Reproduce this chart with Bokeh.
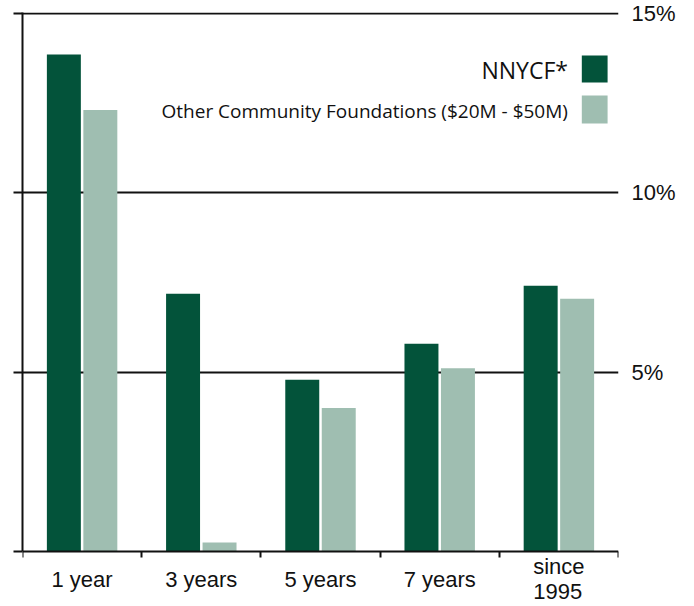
import numpy as np
from bokeh.plotting import figure
from bokeh.models import (ColumnDataSource, Range1d, FixedTicker, LinearAxis,
                          LabelSet, Label, BoxAnnotation)
from bokeh.core.properties import value
from bokeh.transform import dodge
from bokeh.embed import file_html
from bokeh.resources import INLINE

# ---- data ----
categories = ["1 year", "3 years", "5 years", "7 years", "since\n1995"]
nnycf = [13.86, 7.19, 4.79, 5.79, 7.41]
other = [12.31, 0.25, 4.00, 5.11, 7.05]
y_ticks = [5, 10, 15]
y_tick_labels = {5: "5%", 10: "10%", 15: "15%"}
series_names = ["NNYCF*", "Other Community Foundations ($20M - $50M)"]

DARK = "#03533a"
LIGHT = "#9fbeb1"

n = len(categories)
src = ColumnDataSource(dict(x=list(range(n)), nnycf=nnycf, other=other,
                            label=categories, base=[0] * n))

W, H = 678, 606
TOP, LEFT, RIGHT = 12, 22, 55
PX_PER_UNIT = 35.86
Y_END = 15.03
Y_START = Y_END - (H - TOP) / PX_PER_UNIT

p = figure(width=W, height=H, output_backend="svg", toolbar_location=None,
           x_range=Range1d(-0.5, n - 0.5), y_range=Range1d(Y_START, Y_END),
           x_axis_location="above",
           min_border_left=LEFT, min_border_right=RIGHT, min_border_top=TOP,
           min_border_bottom=0)
p.outline_line_color = None
p.background_fill_color = "white"
p.border_fill_color = "white"

# gridlines
p.xgrid.visible = False
p.ygrid.ticker = FixedTicker(ticks=y_ticks)
p.ygrid.grid_line_color = "#111111"
p.ygrid.grid_line_width = 2

# bars
p.vbar(x=dodge("x", -0.153, range=p.x_range), top="nnycf", width=0.285,
       source=src, fill_color=DARK, line_color=None)
p.vbar(x=dodge("x", 0.153, range=p.x_range), top="other", width=0.285,
       source=src, fill_color=LIGHT, line_color=None)

# left axis: vertical line from 0 to top, stubs extending gridlines left
left_ticks = [0] + y_ticks
la = p.yaxis[0]
la.ticker = FixedTicker(ticks=left_ticks)
la.bounds = (0, Y_END)
la.major_tick_out = 9
la.major_tick_in = 0
la.minor_tick_out = 0
la.minor_tick_in = 0
la.major_tick_line_width = 2
la.major_tick_line_color = "#111111"
la.axis_line_width = 2
la.axis_line_color = "#111111"
la.major_label_overrides = {t: "" for t in left_ticks}
la.major_label_standoff = 0

# category axis drawn at y = 0 with ticks at category boundaries
boundaries = [float(b) for b in np.arange(n + 1) - 0.5]
ba = p.xaxis[0]
ba.fixed_location = 0
ba.ticker = FixedTicker(ticks=boundaries)
ba.major_tick_out = 0
ba.major_tick_in = 6
ba.minor_tick_out = 0
ba.minor_tick_in = 0
ba.major_tick_line_width = 2
ba.major_tick_line_color = "#111111"
ba.axis_line_width = 2
ba.axis_line_color = "#111111"
ba.major_label_overrides = {b: "" for b in boundaries}
ba.major_label_standoff = 0

# right axis with percentage labels
ra = LinearAxis(ticker=FixedTicker(ticks=y_ticks),
                major_label_overrides=y_tick_labels)
ra.axis_line_color = None
ra.major_tick_line_color = None
ra.minor_tick_line_color = None
ra.major_label_standoff = 7
ra.major_label_text_font = "Liberation Sans"
ra.major_label_text_font_size = "22px"
ra.major_label_text_color = "#111111"
p.add_layout(ra, "right")

# category labels
labels = LabelSet(x="x", y="base", text="label", source=src,
                  text_align="center", text_baseline="middle", y_offset=-28,
                  text_font=value("Liberation Sans"), text_font_size="22px",
                  text_color="#111111", text_line_height=1.0)
p.add_layout(labels)

# legend (text, then swatch to its right)
FRAME_W = W - LEFT - RIGHT
def px_to_x(px):
    return (px - LEFT) / (FRAME_W / n) - 0.5

def px_to_y(py):
    return Y_END - (py - TOP) / PX_PER_UNIT

p.add_layout(BoxAnnotation(left=px_to_x(586), right=px_to_x(612),
                           top=px_to_y(55), bottom=px_to_y(82),
                           fill_color=DARK, fill_alpha=1, line_color=None))
p.add_layout(BoxAnnotation(left=px_to_x(586), right=px_to_x(612),
                           top=px_to_y(95), bottom=px_to_y(123),
                           fill_color=LIGHT, fill_alpha=1, line_color=None))
p.add_layout(Label(x=px_to_x(572), y=px_to_y(69), text=series_names[0],
                   text_align="right", text_baseline="middle",
                   text_font="Open Sans", text_font_size="23px",
                   text_color="#111111"))
p.add_layout(Label(x=px_to_x(572), y=px_to_y(110), text=series_names[1],
                   text_align="right", text_baseline="middle",
                   text_font="Open Sans", text_font_size="19px",
                   text_color="#111111"))

open("out.html", "w").write(file_html(p, INLINE))
